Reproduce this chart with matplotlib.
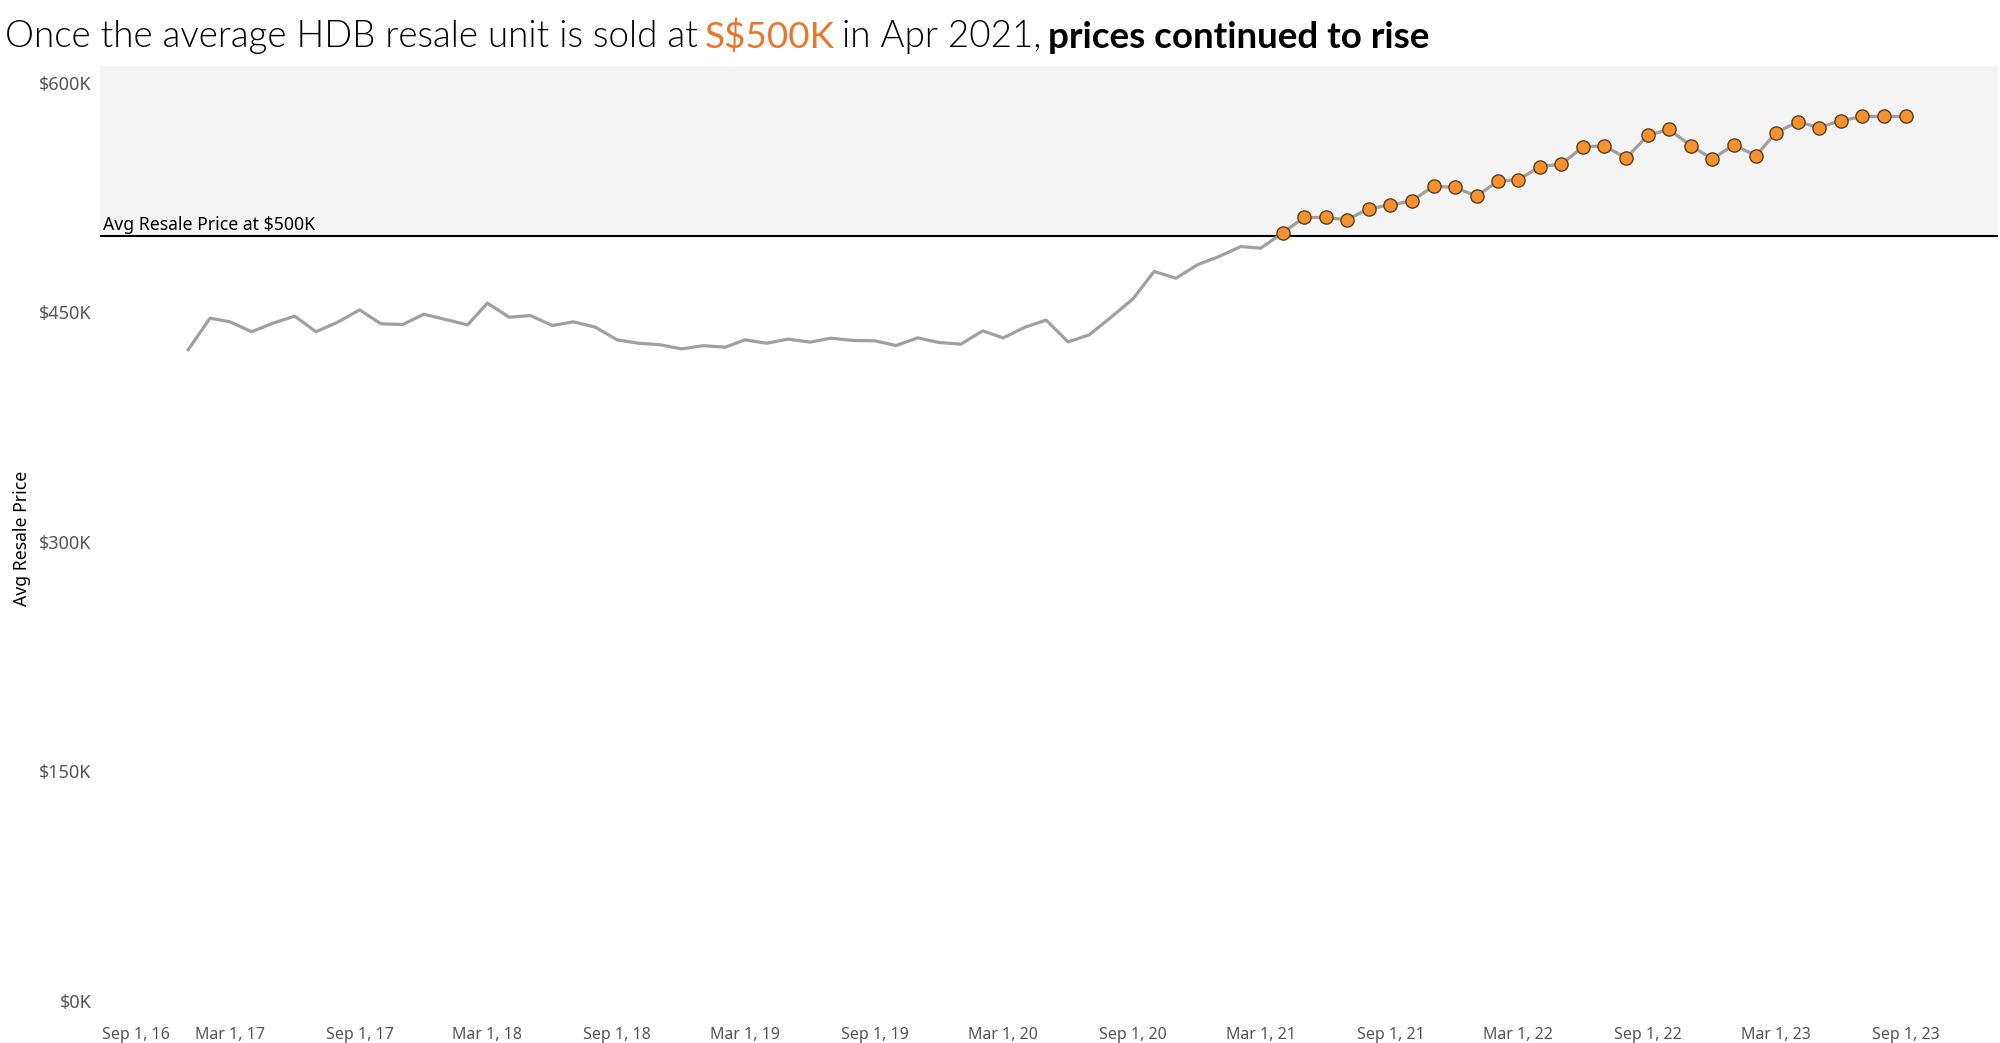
import matplotlib
matplotlib.use("Agg")
import matplotlib.pyplot as plt
import pandas as pd
from datetime import datetime

# Monthly average HDB resale price, in $K
months = pd.date_range("2017-01-01", "2023-09-01", freq="MS")
prices_2017 = [425.5, 446.2, 443.8, 437.3, 442.9, 447.5, 437.3, 443.6, 451.6, 442.5, 442.0, 448.8]
prices_2018 = [445.3, 441.8, 456.0, 446.8, 447.9, 441.4, 443.8, 440.3, 432.0, 429.8, 428.8, 426.1]
prices_2019 = [428.2, 427.2, 432.0, 429.8, 432.5, 430.5, 433.1, 431.6, 431.4, 428.3, 433.3, 430.3]
prices_2020 = [429.2, 437.9, 433.3, 440.3, 444.9, 430.7, 435.3, 446.8, 458.8, 476.7, 472.3, 481.0]
prices_2021 = [486.5, 493.0, 491.9, 501.7, 512.0, 512.0, 510.5, 517.6, 520.3, 522.7, 532.5, 531.6]
prices_2022 = [526.0, 535.9, 536.6, 545.3, 546.8, 558.2, 558.8, 550.8, 565.8, 569.5, 558.8, 550.3]
prices_2023 = [559.5, 552.3, 567.3, 574.5, 570.8, 575.2, 578.0, 578.0, 578.0]
prices = (prices_2017 + prices_2018 + prices_2019 + prices_2020
          + prices_2021 + prices_2022 + prices_2023)

threshold = 500
y_ticks = [0, 150, 300, 450, 600]
x_ticks = pd.date_range("2016-09-01", "2023-09-01", freq="6MS")

df = pd.DataFrame({"month": months, "price": prices})
above = df[df["price"] >= threshold]

fig = plt.figure(figsize=(20, 10.43), dpi=100)
ax = fig.add_axes([0.05, 1 - 1010 / 1043, 0.949, (1010 - 66) / 1043])

# shaded zone above the threshold
ax.axhspan(threshold, 700, color="#f4f4f4", zorder=0, lw=0)
ax.axhline(threshold, color="black", lw=1.5, zorder=2)

ax.plot(df["month"], df["price"], color="#a0a0a0", lw=2.3, zorder=3)
ax.plot(above["month"], above["price"], ls="none", marker="o", ms=9.5,
        mfc="#f5922f", mec="#5c3d1e", mew=1.0, zorder=4)

ax.text(0.0015, threshold + 1.5, "Avg Resale Price at $500K", transform=ax.get_yaxis_transform(),
        ha="left", va="bottom", fontsize=12.7, family="Noto Sans", color="black")

ax.set_xlim(datetime(2016, 8, 29), datetime(2024, 1, 10))
ax.set_ylim(-6, 611)

ax.set_yticks(y_ticks)
ax.set_yticklabels([f"${v}K" for v in y_ticks], family="Noto Sans", fontsize=13, color="#555555")
ax.set_xticks(x_ticks)
ax.set_xticklabels([f"{d:%b} {d.day}, {d:%y}" for d in x_ticks],
                   family="Noto Sans", fontsize=11.5, color="#555555")
ax.get_xticklabels()[0].set_horizontalalignment("left")
ax.tick_params(axis="both", length=0)
ax.tick_params(axis="x", pad=12)
ax.tick_params(axis="y", pad=6)
for s in ax.spines.values():
    s.set_visible(False)

fig.text(22 / 2000, 1 - 538 / 1043, "Avg Resale Price", rotation=90, ha="center", va="center",
         fontsize=12.7, family="Noto Sans", color="black")

# title, built from pieces
tsize = 26.5
t1 = fig.text(5 / 2000, 1 - 47 / 1043, "Once the average HDB resale unit is sold at",
              fontsize=tsize, family="Lato", fontweight=300, color="black", va="baseline")
t2 = fig.text(0, 0, "S$500K", fontsize=tsize, family="Lato", fontweight="normal", color="#e8762b")
t3 = fig.text(0, 0, "in Apr 2021,", fontsize=tsize, family="Lato", fontweight=300, color="black")
t4 = fig.text(0, 0, "prices continued to rise", fontsize=tsize, family="Lato", fontweight="bold", color="black")

fig.canvas.draw()
r = fig.canvas.get_renderer()
gap = 7  # pixels for the word space
prev = t1
for t in (t2, t3, t4):
    bb = prev.get_window_extent(r)
    x, y = fig.transFigure.inverted().transform((bb.x1 + gap, bb.y0))
    t.set_position((x, y))
    t.set_va("bottom")
    fig.canvas.draw()
    prev = t

fig.savefig("out.png", dpi=100)
